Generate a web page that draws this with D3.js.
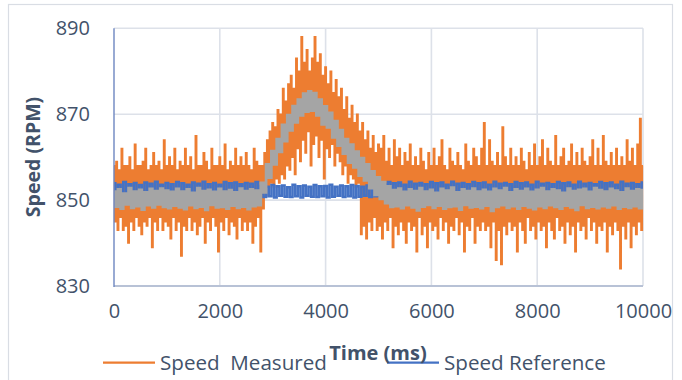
<!DOCTYPE html>
<html>
<head>
<meta charset="utf-8">
<script src="https://cdn.jsdelivr.net/npm/d3@7"></script>
<style>
  body { margin: 0; background: #fff; }
  text { font-family: "Open Sans", sans-serif; fill: #42526a; }
</style>
</head>
<body>
<script>
// time step of each series, in ms
const measuredStep = 25;
const refStep = 50;
const filtStep = 50;

// Speed Measured (RPM), one value every 25 ms
const measured = [
  858,845,859,843,857,846,862,843,858,844,858,840,860,845,857,843,863,846,858,844,
  858,842,859,845,862,844,857,846,858,839,861,845,858,843,859,846,857,843,864,845,
  858,844,860,841,858,846,862,843,857,845,859,837,858,844,862,843,858,846,860,843,
  857,845,865,842,858,844,858,846,861,840,859,845,857,843,862,846,858,844,858,838,
  860,845,858,843,863,846,857,842,859,845,858,844,862,841,858,846,860,843,858,845,
  861,843,858,845,857,840,862,844,859,846,858,838,858,848,861,851,864,853,866,854,
  868,853,867,855,871,854,870,856,876,855,873,858,877,857,879,860,876,856,883,862,
  880,859,888,864,882,861,885,866,880,858,883,863,888,865,882,860,884,864,879,855,
  881,862,877,860,880,863,875,858,878,861,874,859,876,856,871,858,874,854,869,856,
  872,855,868,853,870,854,866,842,868,844,864,841,866,845,862,843,865,846,861,843,
  863,844,862,841,865,845,859,843,862,846,858,839,864,844,860,842,862,845,858,843,
  861,840,859,845,863,843,858,844,860,838,858,846,862,842,859,844,857,839,861,845,
  858,843,862,844,858,841,860,846,864,843,858,845,857,840,862,844,859,843,858,846,
  861,842,858,845,857,838,863,844,859,843,858,846,862,840,860,844,858,843,862,845,
  868,843,858,844,864,839,859,845,858,836,861,843,858,835,867,844,860,842,858,845,
  862,843,858,844,860,838,858,845,862,843,859,840,857,846,861,843,858,844,863,841,
  858,845,860,843,864,844,858,839,862,845,859,843,858,841,865,846,858,843,860,844,
  862,840,858,845,859,842,863,844,858,838,861,845,858,843,862,844,859,841,858,846,
  860,843,864,845,858,840,862,844,858,843,865,845,859,838,858,844,861,842,858,845,
  862,843,858,834,860,844,858,841,864,845,859,839,862,844,858,842,863,845,869,843,858
];

// Speed Reference (RPM), one value every 50 ms
const reference = [
  853.9,851,853.6,850.7,854.2,851.2,853.7,850.9,854,851.1,853.5,850.6,854.1,851,853.8,850.8,854.3,851.2,853.6,850.9,
  854,851.1,853.7,850.7,854.2,850.9,853.9,851.2,853.6,850.8,854.1,851,853.8,850.6,854.3,851.1,853.7,850.9,854,851.2,
  853.6,850.8,854.2,851,853.9,850.7,854.1,851.2,853.7,850.9,854,851.1,853.8,850.8,854.2,851,
  853.3,850.7,853.1,850.9,853.5,850.6,853.2,851,853.4,850.8,853,850.7,853.6,850.9,853.2,850.6,853.4,851,853.1,850.8,
  853.5,850.7,853.2,850.9,853.3,850.6,853.6,850.8,853.1,851,853.4,850.7,853.2,850.9,853.5,850.6,853.3,850.8,853.1,851,
  853.4,850.7,853.2,850.9,
  854,851.1,853.7,850.8,854.2,851,853.9,850.7,854.1,851.2,
  853.6,850.9,854.3,851.1,853.8,850.8,854,851,853.7,850.6,
  854.2,851.2,853.9,850.9,854.1,851,853.6,850.8,854.3,851.1,
  853.8,850.7,854,851.2,853.7,850.9,854.2,851,853.9,850.8,
  854.1,851.1,853.6,850.7,854.3,851,853.8,850.9,854,851.2,
  853.7,850.8,854.2,851,853.9,850.6,854.1,851.1,853.6,850.9,
  854.3,851.2,853.8,850.8,854,851,853.7,850.7,854.2,851.1,
  853.9,850.9,854.1,851.2,853.6,850.8,854.3,851,853.8,850.7,
  854,851.1,853.7,850.9,854.2,851.2,853.9,850.8,854.1,851,
  853.6,850.7,854.3,851.1,853.8,850.9,854,851.2,853.7,850.8,
  854.1
];

// grey (filtered) speed, one value every 50 ms
const filtered = [
  852,848.5,852.5,848,851.5,849,852.8,848.2,852,848.6,852.4,847.8,851.8,848.8,852.6,848.3,852.1,849,852.7,848.4,
  852.2,848.1,851.9,848.7,852.6,848.3,852,847.9,852.5,848.8,851.7,848.2,852.8,848.5,852.1,847.7,852.4,848.9,851.9,848.3,
  852.6,848.4,852,848,852.3,848.7,851.8,848.2,852.7,848.5,852.1,847.9,852.5,848.6,852.2,848.8,
  854,851.8,858.3,855.2,861.4,858.3,864.2,861.2,867.5,863.7,869.8,866.2,871.9,868.1,873.4,869.7,874.8,870.6,875.3,870.8,
  874.9,869.7,873.4,867.6,871.8,866.9,870.3,864.6,868.4,862.7,866.3,860.8,864.2,858.7,862.9,857.6,861.3,855.7,859.8,854.6,
  858.3,852.8,856.7,851.2,855.3,850.3,854.2,849.3,853.2,848.4,
  852.3,848.6,852.7,848.1,851.9,848.8,852.5,848.3,852.1,847.6,
  852.8,848.5,852,848.9,852.4,848.2,851.7,848.7,852.6,848,
  852.2,848.4,852.9,848.6,851.8,847.8,852.5,848.9,852.1,848.3,
  852.7,848.5,852,848.1,852.4,848.7,851.9,847.5,852.6,848.4,
  852.2,848.8,852.8,848.2,851.8,848.6,852.5,848,852.1,848.7,
  852.6,848.3,851.9,847.9,852.4,848.6,852.8,848.2,852,848.8,
  852.5,848.4,852.2,848,851.7,848.7,852.7,848.3,852.1,847.7,
  852.4,848.9,852.6,848.2,851.9,848.5,852.8,848.1,852.3,848.6,
  852,848.3,852.6,848.8,852.2,848,851.8,848.5,852.7,848.2,
  852.1,848.6,852.5,848.1,852.3
];

const xTicks = [0, 2000, 4000, 6000, 8000, 10000];
const yTicks = [830, 850, 870, 890];

const width = 682, height = 380;

const svg = d3.select("body").append("svg")
  .attr("width", width).attr("height", height);

// outer chart border
svg.append("rect")
  .attr("x", 8.5).attr("y", 4.5).attr("width", 664).attr("height", 390)
  .attr("fill", "none").attr("stroke", "#d9dde4").attr("stroke-width", 1.2);

const x = d3.scaleLinear().domain([0, 10000]).range([114, 643]);
const y = d3.scaleLinear().domain([830, 890]).range([286, 28.3]);

// gridlines
svg.append("g").selectAll("line").data(yTicks.slice(1)).enter().append("line")
  .attr("x1", x(0)).attr("x2", x(10000))
  .attr("y1", d => y(d)).attr("y2", d => y(d))
  .attr("stroke", "#dde1e9").attr("stroke-width", 1.6);
svg.append("g").selectAll("line").data(xTicks.slice(1)).enter().append("line")
  .attr("x1", d => x(d)).attr("x2", d => x(d))
  .attr("y1", y(830)).attr("y2", y(890))
  .attr("stroke", "#dde1e9").attr("stroke-width", 1.6);

// step curve so the dense noise reads as a solid band
const line = step => d3.line()
  .curve(d3.curveStep)
  .x((d, i) => x(i * step))
  .y(d => y(d));

svg.append("path").datum(measured)
  .attr("d", line(measuredStep))
  .attr("fill", "none").attr("stroke", "#ed7d31").attr("stroke-width", 1.6);

svg.append("path").datum(reference)
  .attr("d", line(refStep))
  .attr("fill", "none").attr("stroke", "#4472c4").attr("stroke-width", 2.5);

svg.append("path").datum(filtered)
  .attr("d", line(filtStep))
  .attr("fill", "none").attr("stroke", "#a5a5a5").attr("stroke-width", 2.7);

// axis lines
svg.append("line")
  .attr("x1", x(0)).attr("x2", x(10000)).attr("y1", y(830)).attr("y2", y(830))
  .attr("stroke", "#b8c2d6").attr("stroke-width", 2);
svg.append("line")
  .attr("x1", x(0)).attr("x2", x(0)).attr("y1", y(830) + 1).attr("y2", y(890))
  .attr("stroke", "#6d86c0").attr("stroke-width", 1.4);

// tick labels
const yAxis = svg.append("g")
  .attr("transform", "translate(90,0)")
  .call(d3.axisLeft(y).tickValues(yTicks).tickSize(0).tickPadding(0));
yAxis.select(".domain").remove();
yAxis.selectAll("text").style("font-size", "20px").attr("fill", null);

const xAxis = svg.append("g")
  .attr("transform", "translate(0,304)")
  .call(d3.axisBottom(x).tickValues(xTicks).tickSize(0).tickPadding(0).tickFormat(d3.format("d")));
xAxis.select(".domain").remove();
xAxis.selectAll("text").style("font-size", "20px").attr("fill", null);

// axis titles
svg.append("text")
  .attr("transform", "translate(40,157) rotate(-90)")
  .attr("text-anchor", "middle")
  .style("font-size", "19.5px").style("font-weight", "bold")
  .text("Speed (RPM)");

// legend
const legend = [
  { name: "Speed  Measured", color: "#ed7d31", x0: 103 },
  { name: "Speed Reference", color: "#4472c4", x0: 387 }
];
const lg = svg.append("g").selectAll("g").data(legend).enter().append("g");
lg.append("line")
  .attr("x1", d => d.x0).attr("x2", d => d.x0 + 52)
  .attr("y1", 362.7).attr("y2", 362.7)
  .attr("stroke", d => d.color).attr("stroke-width", 2.2);
lg.append("text")
  .attr("x", d => d.x0 + 57).attr("y", 370)
  .style("font-size", "20.6px").style("white-space", "pre")
  .attr("xml:space", "preserve")
  .text(d => d.name);

svg.append("text")
  .attr("x", 378).attr("y", 360)
  .attr("text-anchor", "middle")
  .style("font-size", "20px").style("font-weight", "bold")
  .text("Time (ms)");
</script>
</body>
</html>
